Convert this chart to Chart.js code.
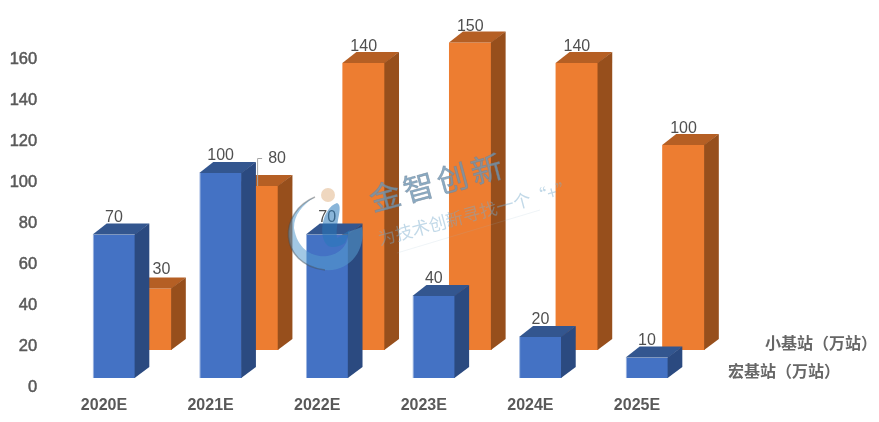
<!DOCTYPE html>
<html>
<head>
<meta charset="utf-8">
<title>基站预测</title>
<script src="https://cdn.jsdelivr.net/npm/chart.js@4"></script>
<style>
    html, body { margin: 0; padding: 0; background: #fff; }
    canvas { display: block; }
</style>
</head>
<body>
<canvas id="chart" width="879" height="422"></canvas>
<script>
(function() {
    'use strict';

    var categories = ['2020E', '2021E', '2022E', '2023E', '2024E', '2025E'];
    var macroValues = [70, 100, 70, 40, 20, 10];
    var smallValues = [30, 80, 140, 150, 140, 100];
    var macroName = '宏基站（万站）';
    var smallName = '小基站（万站）';
    var yTicks = [0, 20, 40, 60, 80, 100, 120, 140, 160];

    // fake 3D: each series is shifted back, then gets a top and a side face
    var DEPTH_X = 14;
    var DEPTH_Y = 11;
    var looks = [
        { dx: 10, dy: -9, top: '#33568F', side: '#2B4A80', labelDy: -18 },
        { dx: 46.5, dy: -37, top: '#B55F24', side: '#974F1C', labelDy: -17 }
    ];

    function drawFace(ctx, points, color) {
        ctx.beginPath();
        ctx.moveTo(points[0], points[1]);
        for (var i = 2; i < points.length; i += 2) {
            ctx.lineTo(points[i], points[i + 1]);
        }
        ctx.closePath();
        ctx.fillStyle = color;
        ctx.fill();
    }

    var bars3d = {
        id: 'bars3d',
        beforeDatasetDraw: function(chart, args) {
            var look = looks[args.index];
            chart.ctx.save();
            chart.ctx.translate(look.dx, look.dy);
        },
        afterDatasetDraw: function(chart, args) {
            var ctx = chart.ctx;
            var look = looks[args.index];
            args.meta.data.forEach(function(el) {
                var p = el.getProps(['x', 'y', 'base', 'width'], true);
                var l = p.x - p.width / 2;
                var r = p.x + p.width / 2;
                drawFace(ctx, [l, p.y, l + DEPTH_X, p.y - DEPTH_Y, r + DEPTH_X, p.y - DEPTH_Y, r, p.y], look.top);
                // start the side a bit inside the front so no pale fringe shows
                drawFace(ctx, [r - 0.7, p.y, r + DEPTH_X, p.y - DEPTH_Y, r + DEPTH_X, p.base - DEPTH_Y, r - 0.7, p.base], look.side);
            });
            ctx.restore();
        },
        afterDatasetsDraw: function(chart) {
            var ctx = chart.ctx;
            ctx.save();
            ctx.font = '16px "Liberation Sans"';
            ctx.fillStyle = '#505050';
            ctx.textAlign = 'center';
            ctx.textBaseline = 'middle';
            chart.data.datasets.forEach(function(ds, d) {
                var look = looks[d];
                chart.getDatasetMeta(d).data.forEach(function(el, i) {
                    var x = el.x + look.dx;
                    var y = el.y + look.dy + look.labelDy;
                    // the two small orange bars have their labels pushed aside
                    if (d === 1 && i === 0) {
                        x += 11;
                        y -= 3;
                    }
                    if (d === 1 && i === 1) {
                        x += 20;
                        y -= 11;
                        ctx.beginPath();
                        ctx.moveTo(x - 20 + 0.5, el.y + look.dy);
                        ctx.lineTo(x - 20 + 0.5, y + 0.5);
                        ctx.lineTo(x - 15, y + 0.5);
                        ctx.strokeStyle = '#A6A6A6';
                        ctx.lineWidth = 1;
                        ctx.stroke();
                    }
                    ctx.fillText(ds.data[i], x, y + 1);
                });
            });

            // series names sit on the depth axis
            ctx.font = 'bold 16px "Noto Sans CJK SC"';
            ctx.fillStyle = '#666666';
            ctx.textAlign = 'left';
            ctx.fillText(smallName, 765, 343);
            ctx.fillText(macroName, 728, 371);
            ctx.restore();
        },
        afterDraw: function(chart) {
            drawWatermark(chart.ctx);
        }
    };

    function drawWatermark(ctx) {
        ctx.save();

        // swirl logo
        ctx.beginPath();
        ctx.moveTo(315, 197);
        ctx.bezierCurveTo(278, 212, 278, 264, 325, 270);
        ctx.bezierCurveTo(350, 272, 366, 250, 362, 227);
        ctx.lineTo(348, 232);
        ctx.bezierCurveTo(350, 262, 300, 268, 294, 228);
        ctx.bezierCurveTo(294, 215, 302, 205, 315, 197);
        ctx.closePath();
        ctx.fillStyle = 'rgba(85, 155, 205, 0.55)';
        ctx.fill();

        ctx.beginPath();
        ctx.moveTo(337, 203);
        ctx.bezierCurveTo(344, 206, 335, 222, 337, 238);
        ctx.lineTo(350, 230);
        ctx.lineTo(345, 243);
        ctx.bezierCurveTo(338, 248, 330, 248, 327, 245);
        ctx.bezierCurveTo(318, 236, 322, 208, 337, 203);
        ctx.closePath();
        ctx.fillStyle = 'rgba(40, 120, 185, 0.55)';
        ctx.fill();

        ctx.beginPath();
        ctx.moveTo(315, 197);
        ctx.bezierCurveTo(278, 212, 278, 264, 325, 270);
        ctx.strokeStyle = 'rgba(70, 70, 70, 0.4)';
        ctx.lineWidth = 1.5;
        ctx.stroke();

        ctx.beginPath();
        ctx.arc(328, 195, 7, 0, Math.PI * 2);
        ctx.fillStyle = 'rgba(235, 205, 175, 0.8)';
        ctx.fill();

        ctx.beginPath();
        ctx.moveTo(397, 253);
        ctx.lineTo(540, 210);
        ctx.strokeStyle = 'rgba(150, 180, 200, 0.15)';
        ctx.lineWidth = 1;
        ctx.stroke();

        // slogan text
        ctx.textBaseline = 'alphabetic';
        ctx.textAlign = 'left';

        ctx.save();
        ctx.translate(373, 211.5);
        ctx.rotate(-15 * Math.PI / 180);
        ctx.font = '31px "Noto Sans CJK SC"';
        ctx.letterSpacing = '4px';
        ctx.fillStyle = 'rgba(110, 150, 180, 0.8)';
        ctx.strokeStyle = 'rgba(110, 130, 150, 0.6)';
        ctx.lineWidth = 0.6;
        ctx.fillText('金智创新', 0, 0);
        ctx.strokeText('金智创新', 0, 0);
        ctx.restore();

        ctx.translate(380, 245.5);
        ctx.rotate(-15 * Math.PI / 180);
        ctx.font = '17.5px "Noto Sans CJK SC"';
        ctx.fillStyle = 'rgba(120, 170, 205, 0.45)';
        ctx.fillText('为技术创新寻找一个“+”', 0, 0);
        ctx.restore();
    }

    new Chart(document.getElementById('chart'), {
        type: 'bar',
        data: {
            labels: categories,
            datasets: [
                {
                    label: macroName,
                    data: macroValues,
                    backgroundColor: '#4472C4',
                    borderColor: '#9DB5E0',
                    borderWidth: { left: 1, bottom: 1, right: 0, top: 0 },
                    order: 0
                },
                {
                    label: smallName,
                    data: smallValues,
                    backgroundColor: '#ED7D31',
                    borderColor: '#F6BE98',
                    borderWidth: { left: 0, bottom: 1, right: 0, top: 0 },
                    order: 1
                }
            ]
        },
        options: {
            responsive: false,
            animation: false,
            grouped: false,
            clip: false,
            barPercentage: 0.4,
            categoryPercentage: 1,
            layout: {
                padding: { top: 59, right: 188.7, left: 0, bottom: 0 }
            },
            plugins: {
                legend: { display: false },
                tooltip: { enabled: false }
            },
            scales: {
                x: {
                    grid: { display: false },
                    border: { display: false },
                    afterFit: function(scale) { scale.height = 35; },
                    ticks: {
                        color: '#595959',
                        font: { family: '"Liberation Sans"', size: 16, weight: 'bold' },
                        padding: 1,
                        maxRotation: 0
                    }
                },
                y: {
                    min: 0,
                    max: 160,
                    grid: { display: false },
                    border: { display: false },
                    afterFit: function(scale) { scale.width = 50.7; },
                    afterBuildTicks: function(scale) {
                        scale.ticks = yTicks.map(function(v) { return { value: v }; });
                    },
                    ticks: {
                        color: '#595959',
                        font: { family: '"Liberation Sans"', size: 16.5 },
                        textStrokeColor: '#595959',
                        textStrokeWidth: 0.5,
                        padding: 5.5
                    }
                }
            }
        },
        plugins: [bars3d]
    });
})();
</script>
</body>
</html>
